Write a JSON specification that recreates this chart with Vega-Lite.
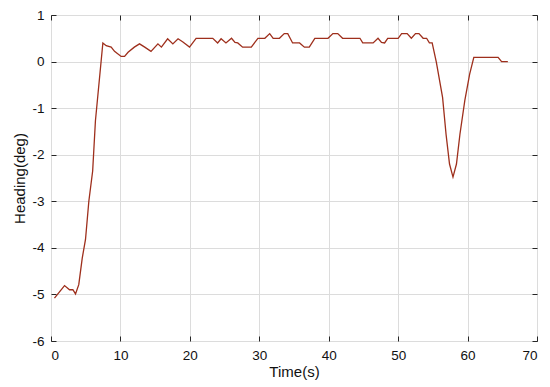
{
  "$schema": "https://vega.github.io/schema/vega-lite/v6.json",
  "width": 486,
  "height": 326,
  "autosize": {"type": "none"},
  "padding": {"left": 51, "top": 15, "right": 13, "bottom": 46},
  "background": "white",
  "config": {
    "view": {"stroke": "#262626", "strokeWidth": 1},
    "font": "Liberation Sans",
    "axis": {
      "domain": false,
      "gridColor": "#dcdcdc",
      "gridWidth": 1,
      "tickColor": "#262626",
      "tickSize": -5,
      "labelColor": "#111",
      "labelFontSize": 13.5,
      "titleColor": "#111",
      "titleFontSize": 15,
      "titleFontWeight": "normal"
    }
  },
  "data": {
    "values": [
      {"t": 0.5, "h": -5.08}, {"t": 1.95, "h": -4.81}, {"t": 2.67, "h": -4.9}, {"t": 3.15, "h": -4.9},
      {"t": 3.53, "h": -4.99}, {"t": 4.0, "h": -4.79}, {"t": 4.5, "h": -4.22}, {"t": 4.97, "h": -3.82},
      {"t": 5.45, "h": -3.0}, {"t": 6.0, "h": -2.35}, {"t": 6.4, "h": -1.27}, {"t": 7.47, "h": 0.4},
      {"t": 7.95, "h": 0.34}, {"t": 8.67, "h": 0.31}, {"t": 9.15, "h": 0.22}, {"t": 10.1, "h": 0.11},
      {"t": 10.6, "h": 0.11}, {"t": 11.1, "h": 0.2}, {"t": 12.0, "h": 0.31}, {"t": 12.75, "h": 0.38},
      {"t": 13.5, "h": 0.31}, {"t": 14.4, "h": 0.22}, {"t": 15.4, "h": 0.38}, {"t": 15.9, "h": 0.31},
      {"t": 16.8, "h": 0.49}, {"t": 17.55, "h": 0.38}, {"t": 18.3, "h": 0.49}, {"t": 19.0, "h": 0.42},
      {"t": 19.95, "h": 0.31}, {"t": 20.9, "h": 0.5}, {"t": 23.3, "h": 0.5}, {"t": 24.0, "h": 0.4},
      {"t": 24.5, "h": 0.49}, {"t": 25.2, "h": 0.4}, {"t": 26.0, "h": 0.5}, {"t": 26.5, "h": 0.41},
      {"t": 26.9, "h": 0.4}, {"t": 27.6, "h": 0.31}, {"t": 28.85, "h": 0.31}, {"t": 29.8, "h": 0.5},
      {"t": 30.8, "h": 0.5}, {"t": 31.5, "h": 0.6}, {"t": 32.0, "h": 0.5}, {"t": 32.9, "h": 0.5},
      {"t": 33.6, "h": 0.6}, {"t": 34.1, "h": 0.6}, {"t": 34.8, "h": 0.4}, {"t": 35.8, "h": 0.4},
      {"t": 36.5, "h": 0.31}, {"t": 37.2, "h": 0.31}, {"t": 38.0, "h": 0.5}, {"t": 39.9, "h": 0.5},
      {"t": 40.6, "h": 0.6}, {"t": 41.3, "h": 0.6}, {"t": 42.0, "h": 0.5}, {"t": 44.5, "h": 0.5},
      {"t": 44.9, "h": 0.4}, {"t": 46.4, "h": 0.4}, {"t": 47.1, "h": 0.5}, {"t": 47.6, "h": 0.41},
      {"t": 48.05, "h": 0.4}, {"t": 48.5, "h": 0.5}, {"t": 50.0, "h": 0.5}, {"t": 50.5, "h": 0.6},
      {"t": 51.3, "h": 0.6}, {"t": 51.9, "h": 0.5}, {"t": 52.5, "h": 0.6}, {"t": 53.0, "h": 0.6},
      {"t": 53.6, "h": 0.5}, {"t": 54.1, "h": 0.5}, {"t": 54.5, "h": 0.4}, {"t": 54.9, "h": 0.4},
      {"t": 55.5, "h": -0.01}, {"t": 56.4, "h": -0.77}, {"t": 56.9, "h": -1.56}, {"t": 57.4, "h": -2.2},
      {"t": 57.9, "h": -2.48}, {"t": 58.4, "h": -2.2}, {"t": 58.9, "h": -1.56}, {"t": 59.6, "h": -0.84},
      {"t": 60.3, "h": -0.27}, {"t": 60.9, "h": 0.09}, {"t": 64.4, "h": 0.09}, {"t": 64.9, "h": 0.0},
      {"t": 65.8, "h": 0.0}
    ]
  },
  "layer": [
    {
      "mark": {"type": "line", "color": "#9e2f1c", "strokeWidth": 1.3},
      "encoding": {
        "x": {
          "field": "t", "type": "quantitative",
          "scale": {"domain": [0, 70], "nice": false},
          "axis": {"title": "Time(s)", "values": [0, 10, 20, 30, 40, 50, 60, 70], "labelPadding": 12, "titlePadding": 3, "labelExpr": "'' + datum.value"}
        },
        "y": {
          "field": "h", "type": "quantitative",
          "scale": {"domain": [-6, 1], "nice": false},
          "axis": {"title": "Heading(deg)", "values": [-6, -5, -4, -3, -2, -1, 0, 1], "labelPadding": 12, "titlePadding": 4, "labelExpr": "'' + datum.value"}
        }
      }
    },
    {
      "mark": {"type": "line", "opacity": 0},
      "encoding": {
        "x": {
          "field": "t", "type": "quantitative",
          "scale": {"domain": [0, 70], "nice": false},
          "axis": {"orient": "top", "title": null, "labels": false, "grid": false, "values": [0, 10, 20, 30, 40, 50, 60, 70]}
        },
        "y": {
          "field": "h", "type": "quantitative",
          "scale": {"domain": [-6, 1], "nice": false},
          "axis": {"orient": "right", "title": null, "labels": false, "grid": false, "values": [-6, -5, -4, -3, -2, -1, 0, 1]}
        }
      }
    }
  ],
  "resolve": {"axis": {"x": "independent", "y": "independent"}}
}
